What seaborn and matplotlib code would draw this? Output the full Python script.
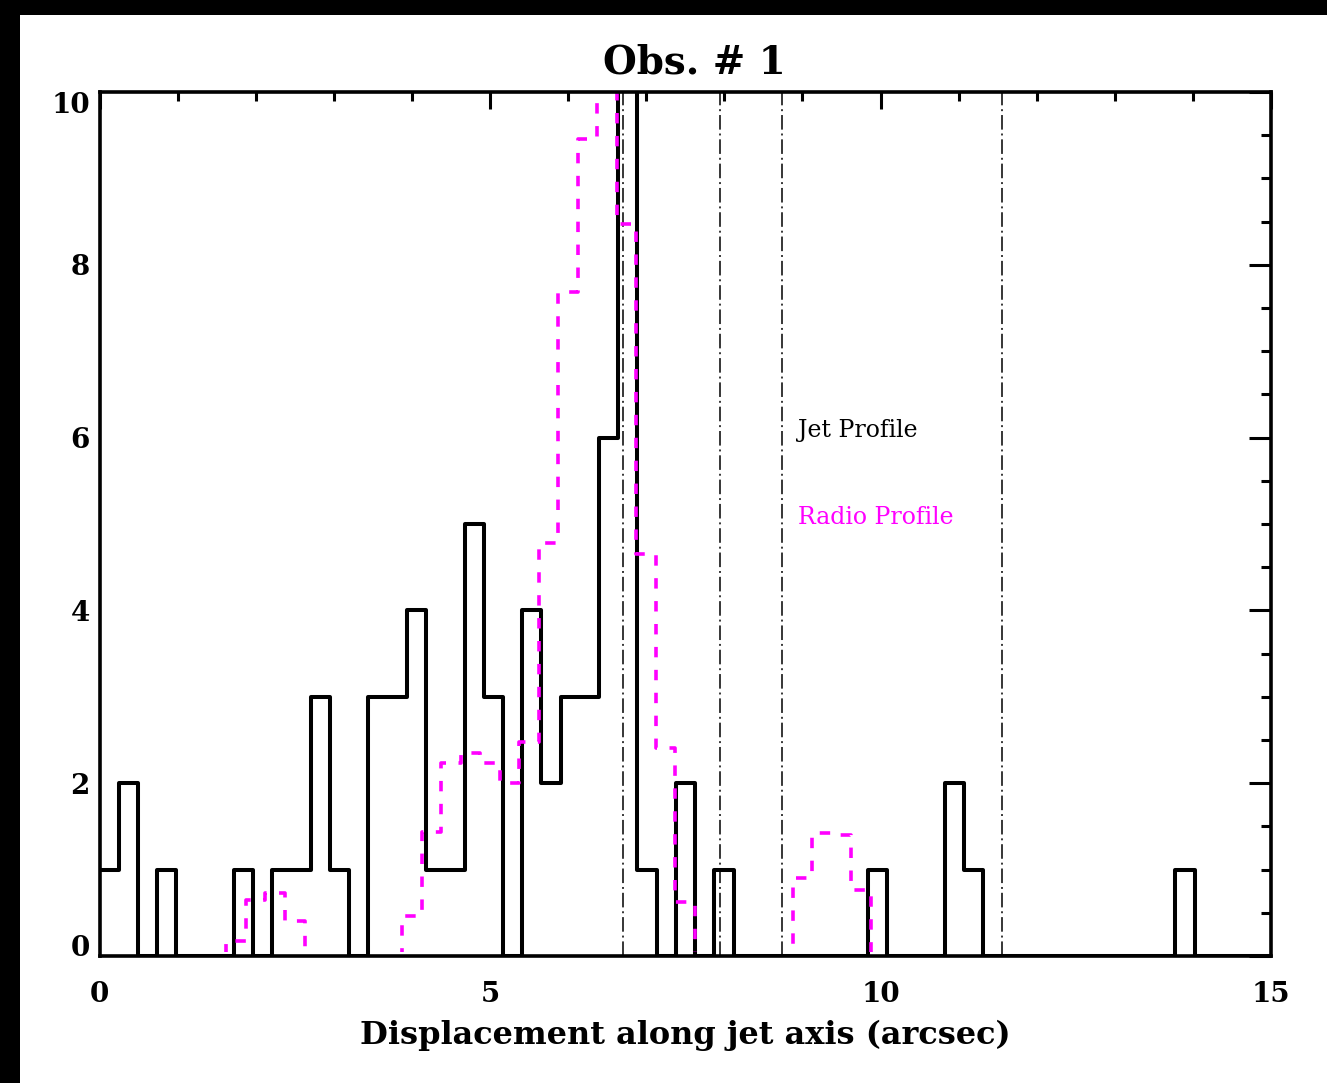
import numpy as np
import pandas as pd
import matplotlib
matplotlib.use("Agg")
import matplotlib.pyplot as plt
import seaborn as sns
from matplotlib.patches import Rectangle
from matplotlib.ticker import MultipleLocator

# ---------------- data ----------------
jet_bin_width = 0.246
jet_counts = [1, 2, 0, 1, 0, 0, 0, 1, 0, 1,
              1, 3, 1, 0, 3, 3, 4, 1, 1, 5,
              3, 0, 4, 2, 3, 3, 6, 12, 1, 0,
              2, 0, 1, 0, 0, 0, 0, 0, 0, 0,
              1, 0, 0, 0, 2, 1, 0, 0, 0, 0,
              0, 0, 0, 0, 0, 0, 1, 0, 0, 0, 0]

radio_step = 0.25
radio_profile = [0, 0, 0, 0, 0, 0, 0, 0.17, 0.65, 0.73,
                 0.40, 0, 0, 0, 0, 0, 0.46, 1.43, 2.23, 2.35,
                 2.23, 2.00, 2.48, 4.78, 7.69, 9.46, 10.3, 8.47, 4.65, 2.41,
                 0.63, 0, 0, 0, 0, 0, 0.90, 1.42, 1.40, 0.76,
                 0, 0, 0, 0, 0, 0, 0, 0, 0, 0,
                 0, 0, 0, 0, 0, 0, 0, 0, 0, 0, 0]

component_positions = [6.70, 7.95, 8.74, 11.55]

title_text = "Obs. # 1"
xlabel_text = "Displacement along jet axis (arcsec)"
jet_label = "Jet Profile"
radio_label = "Radio Profile"
x_ticks = [0, 5, 10, 15]
y_ticks = [0, 2, 4, 6, 8, 10]

# ---------------- style ----------------
sns.set_theme(style="white")
plt.rcParams["font.family"] = ["DejaVu Serif"]
plt.rcParams["lines.scale_dashes"] = False

W, H = 1327, 1083
fig = plt.figure(figsize=(W / 100, H / 100), dpi=100, facecolor="black")
fig.add_artist(Rectangle((20 / W, 0), 1 - 20 / W, 1 - 15 / H,
                         transform=fig.transFigure, facecolor="white",
                         edgecolor="none", zorder=-10))

ax = fig.add_axes([99.5 / W, 1 - 956 / H, (1271 - 99.5) / W, (956 - 92) / H])
ax.set_facecolor("white")

# jet histogram (black, solid)
jet_edges = np.arange(len(jet_counts) + 1) * jet_bin_width
jet_df = pd.DataFrame({"pos": 0.5 * (jet_edges[:-1] + jet_edges[1:]),
                       "counts": jet_counts})
sns.histplot(data=jet_df, x="pos", weights="counts", bins=jet_edges.tolist(),
             element="step", fill=False, color="black", linewidth=2.9, ax=ax)

# radio profile (magenta, dashed, centred steps)
radio_x = np.arange(len(radio_profile)) * radio_step
radio_edges = np.append(radio_x - radio_step / 2, radio_x[-1] + radio_step / 2)
radio_df = pd.DataFrame({"pos": radio_x, "flux": radio_profile})
sns.histplot(data=radio_df, x="pos", weights="flux", bins=radio_edges.tolist(),
             element="step", fill=False, color="#ff00ff", linewidth=2.6,
             linestyle=(0, (7.5, 9)), ax=ax)
radio_line = ax.lines[-1]
radio_line.set_clip_path(Rectangle((0, 0.05), 15, 9.95, transform=ax.transData))

# component markers
for xc in component_positions:
    ax.axvline(xc, color="black", linewidth=1.1,
               linestyle=(0, (10.5, 2.8, 1.4, 2.8)), zorder=1)

ax.text(8.94, 6.08, jet_label, color="black", fontsize=17,
        ha="left", va="center")
ax.text(8.94, 5.07, radio_label, color="#ff00ff", fontsize=17,
        ha="left", va="center")

ax.set_xlim(0, 15)
ax.set_ylim(0, 10)
ax.set_xticks(x_ticks)
ax.set_yticks(y_ticks)
ax.set_xticklabels([str(v) for v in x_ticks])
ax.set_yticklabels([str(v) for v in y_ticks])
ax.xaxis.set_minor_locator(MultipleLocator(1))
ax.yaxis.set_minor_locator(MultipleLocator(0.5))
ax.tick_params(which="both", direction="in", top=True, right=True,
               color="black", width=2.2, labelsize=20, labelcolor="black")
ax.tick_params(axis="x", which="major", length=12.2, pad=18)
ax.tick_params(axis="x", which="minor", length=6.3)
ax.tick_params(axis="y", which="major", length=15.8, pad=7)
ax.tick_params(axis="y", which="minor", length=7.2)
for lbl in ax.get_xticklabels() + ax.get_yticklabels():
    lbl.set_fontweight("bold")
ylbls = ax.get_yticklabels()
ylbls[0].set_verticalalignment("baseline")
ylbls[-1].set_verticalalignment("top")

for sp in ax.spines.values():
    sp.set_visible(True)
    sp.set_color("black")
    sp.set_linewidth(2.6)

ax.set_xlabel("")
ax.set_ylabel("")
fig.text(685 / W, 1 - 1035 / H, xlabel_text, ha="center", va="center",
         fontsize=23, fontweight="bold", color="black")
fig.text(694 / W, 1 - 62 / H, title_text, ha="center", va="center",
         fontsize=28, fontweight="bold", color="black")

fig.savefig("out.png", dpi=100, facecolor=fig.get_facecolor())
